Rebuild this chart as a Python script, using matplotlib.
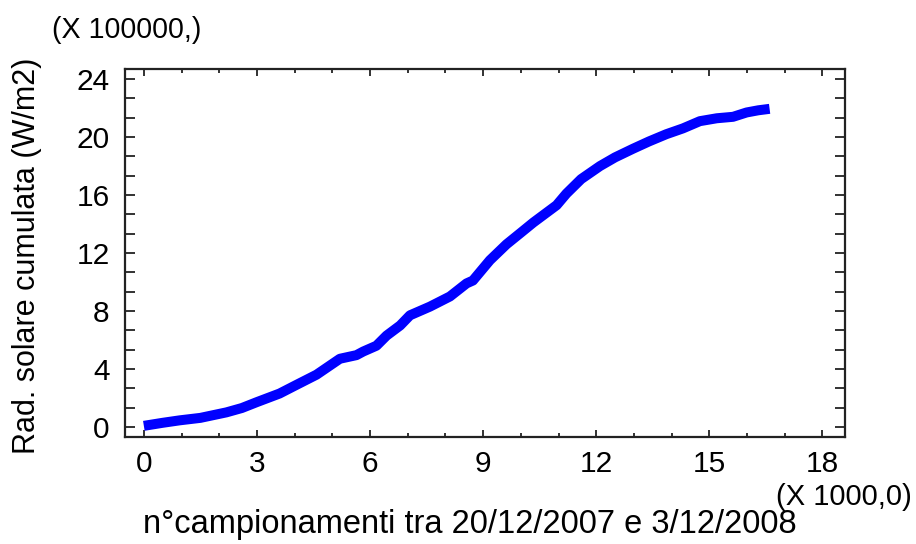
import matplotlib
matplotlib.use("Agg")
import matplotlib.pyplot as plt
from matplotlib.ticker import AutoMinorLocator

# Cumulative solar radiation, x in thousands of samples, y in units of 1e5 W/m2
samples_k = [0, 0.5, 0.95, 1.5, 2.19, 2.6, 2.99, 3.6, 4.05, 4.58, 5.2, 5.64,
             5.82, 6.17, 6.44, 6.8, 7.06, 7.59, 8.12, 8.56, 8.73, 9.18, 9.62,
             10.0, 10.33, 10.95, 11.21, 11.6, 12.1, 12.5, 12.98, 13.4, 13.86,
             14.3, 14.75, 15.2, 15.63, 15.99, 16.3, 16.6]
radiation = [0.07, 0.28, 0.45, 0.62, 1.0, 1.3, 1.7, 2.3, 2.9, 3.6, 4.7, 4.95,
             5.2, 5.6, 6.3, 7.0, 7.7, 8.3, 9.0, 9.9, 10.1, 11.5, 12.6,
             13.4, 14.1, 15.3, 16.1, 17.1, 18.0, 18.6, 19.2, 19.7, 20.2,
             20.6, 21.1, 21.3, 21.4, 21.7, 21.85, 21.95]

x_ticks = [0, 3, 6, 9, 12, 15, 18]
y_ticks = [0, 4, 8, 12, 16, 20, 24]

plt.rcParams['font.family'] = ['Liberation Sans', 'DejaVu Sans']

fig = plt.figure(figsize=(9.16, 5.44), dpi=100)
ax = fig.add_axes([125 / 916, 1 - 437 / 544, 720 / 916, 368 / 544])

ax.plot(samples_k, radiation, color='#0000ff', linewidth=7.2,
        solid_capstyle='butt', solid_joinstyle='round')

ax.set_xlim(-0.5, 18.6)
ax.set_ylim(-0.7, 24.7)
ax.set_xticks(x_ticks)
ax.set_yticks(y_ticks)
ax.xaxis.set_minor_locator(AutoMinorLocator(3))
ax.yaxis.set_minor_locator(AutoMinorLocator(3))

for s in ax.spines.values():
    s.set_linewidth(1.6)
    s.set_color('#222222')

ax.tick_params(axis='x', which='major', direction='in', length=5, width=1.3,
               top=True, labelsize=21.5, pad=9, colors='#222222', labelcolor='black')
ax.tick_params(axis='x', which='minor', direction='in', length=3, width=1.3,
               top=True, colors='#222222')
ax.tick_params(axis='y', which='both', direction='in', length=7, width=1.3,
               right=True, colors='#222222')
ax.tick_params(axis='y', which='major', labelsize=21.5, pad=11, labelcolor='black')

ax.set_xlabel('n°campionamenti tra 20/12/2007 e 3/12/2008', fontsize=23.5)
ax.xaxis.set_label_coords(470 / 916, 1 - 525 / 544, transform=fig.transFigure)
ax.xaxis.label.set_va('center')
ax.set_ylabel('Rad. solare cumulata (W/m2)', fontsize=22)
ax.yaxis.set_label_coords(27 / 916, 1 - 256 / 544, transform=fig.transFigure)
ax.yaxis.label.set_va('center')

fig.text(52 / 916, 1 - 30 / 544, '(X 100000,)', fontsize=20.6, ha='left', va='center')
fig.text(912 / 916, 1 - 497 / 544, '(X 1000,0)', fontsize=21, ha='right', va='center')

fig.savefig('out.png', dpi=100)
